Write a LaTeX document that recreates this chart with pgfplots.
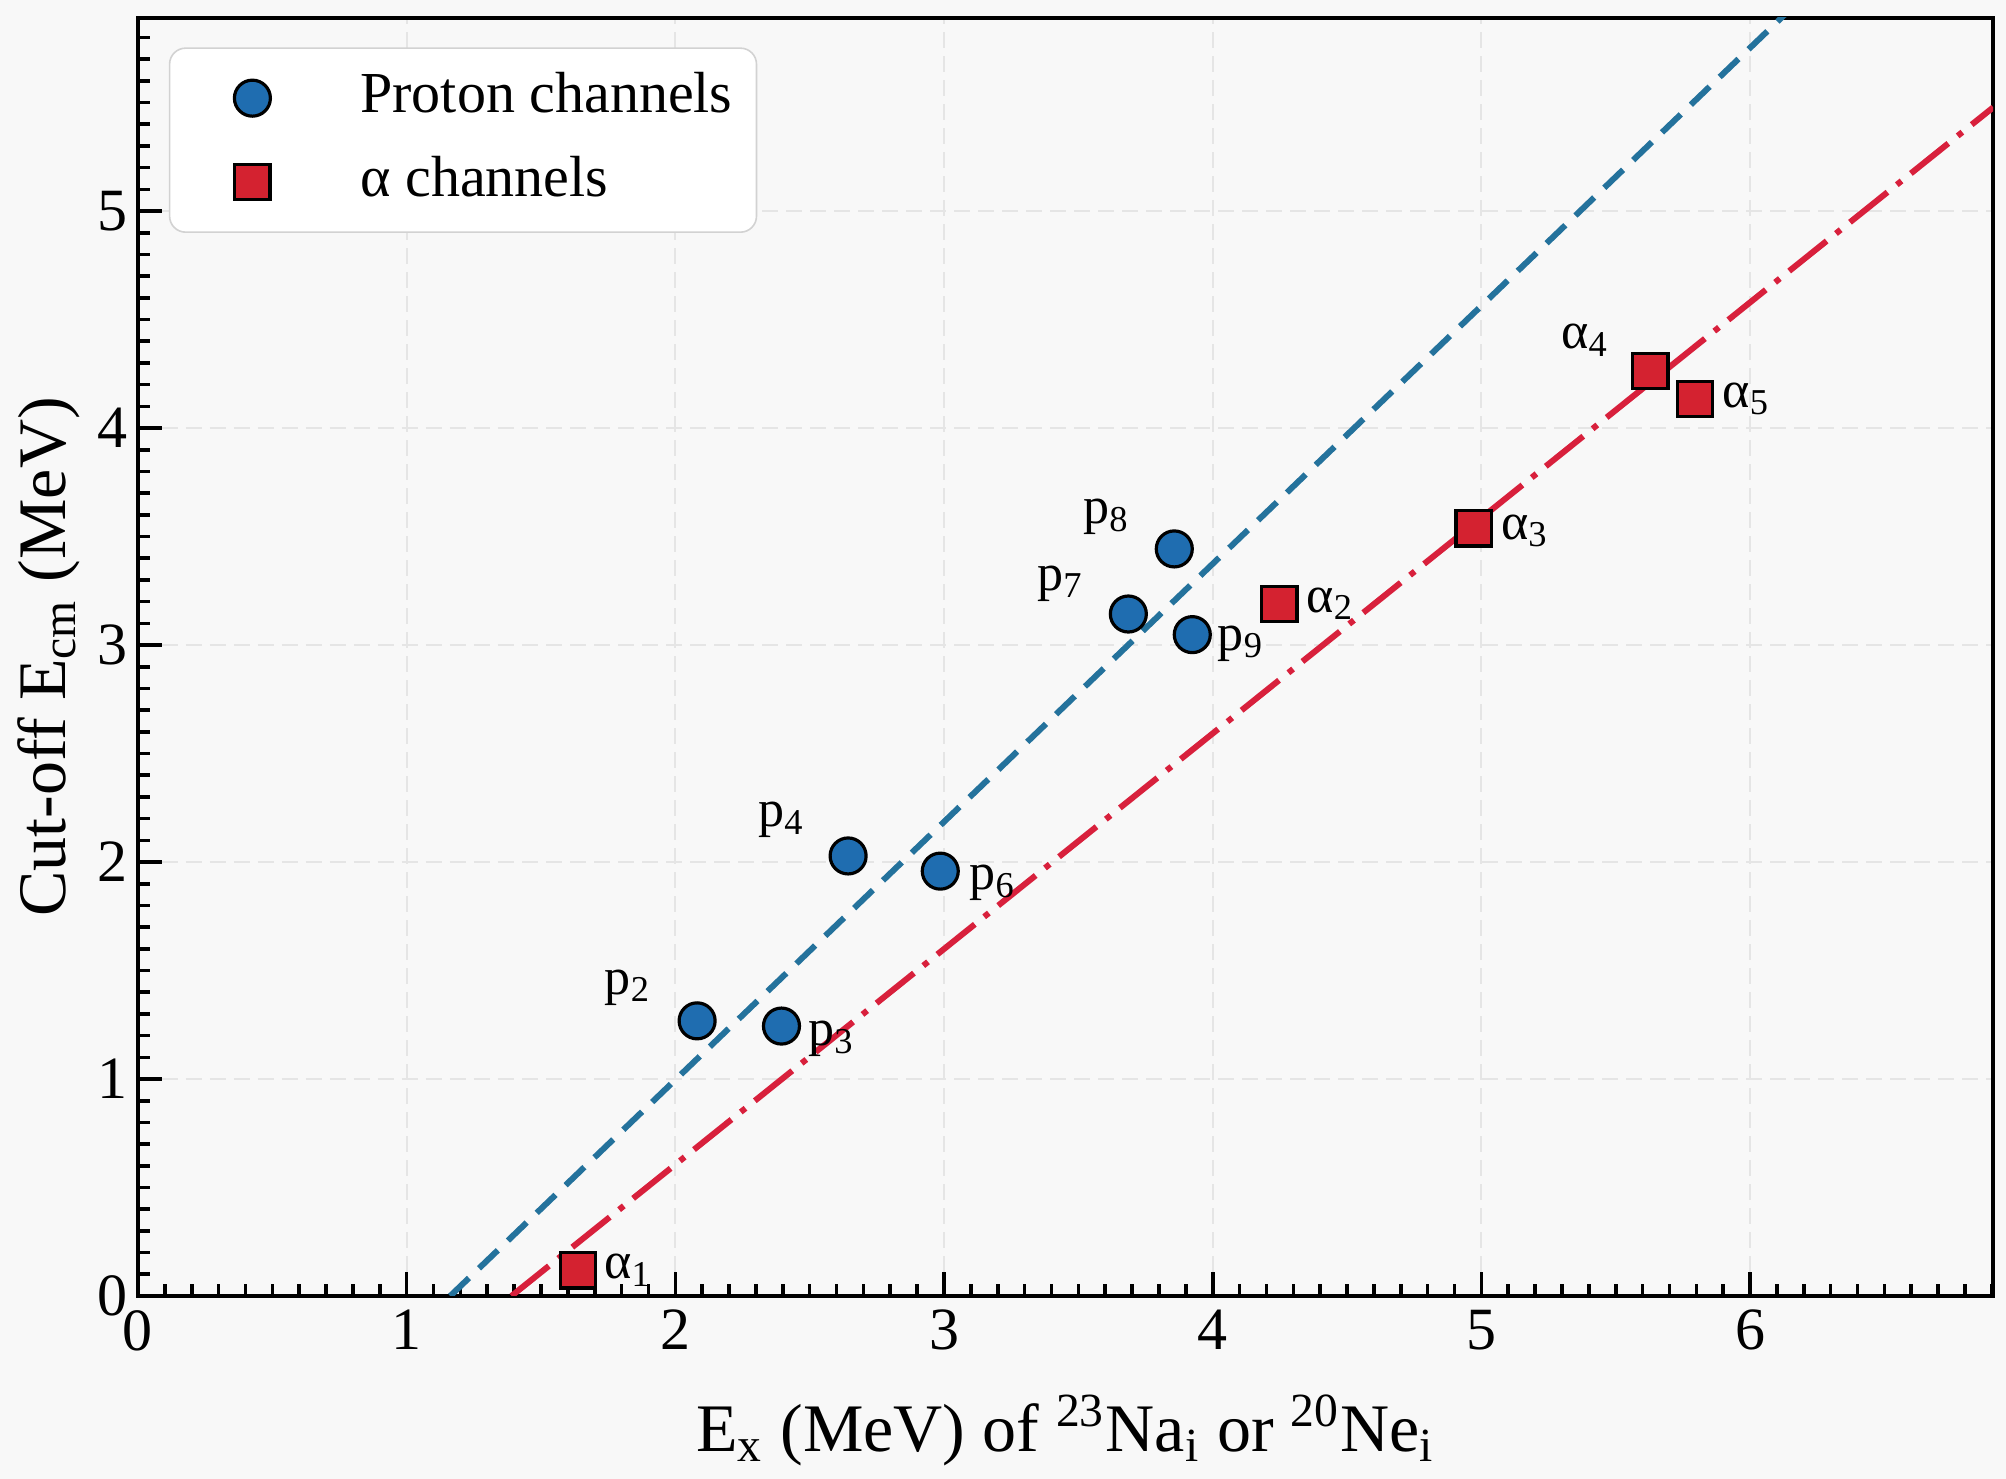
\documentclass[border=0pt]{standalone}
\usepackage{fontspec}
\setmainfont{Liberation Serif}
\usepackage{pgfplots}
\pgfplotsset{compat=1.18}
\definecolor{bg}{HTML}{F8F8F8}
\definecolor{pblue}{HTML}{1F6DB0}
\definecolor{ared}{HTML}{D42230}
\definecolor{pline}{HTML}{24729C}
\definecolor{aline}{HTML}{D8203C}
\begin{document}
\begin{tikzpicture}
\fill[bg] (-34.5pt,-45.75pt) rectangle (467pt,324pt);
\begin{axis}[
  scale only axis, width=463.8pt, height=319.5pt,
  xmin=0, xmax=6.905, ymin=0, ymax=5.89,
  xtick={0,1,2,3,4,5,6}, ytick={0,1,2,3,4,5},
  minor xtick={0,0.1,...,6.9}, minor ytick={0,0.1,...,5.85},
  xtick pos=bottom, ytick pos=left,
  tick align=inside, major tick length=6pt, minor tick length=3pt,
  every tick/.style={black, line width=0.9pt},
  axis line style={line width=1pt},
  grid=major, major grid style={gray!20, dash pattern=on 4pt off 2pt, line width=0.5pt},
  axis background/.style={fill=bg},
  /pgf/number format/assume math mode=true,
  tick label style={font=\fontsize{15}{17}\selectfont},
  yticklabel style={xshift=1pt},
  label style={font=\fontsize{17}{20}\selectfont},
  xlabel={E\textsubscript{x} (MeV) of \textsuperscript{23}Na\textsubscript{i} or \textsuperscript{20}Ne\textsubscript{i}},
  ylabel={Cut-off E\textsubscript{cm} (MeV)},
  xlabel style={at={(axis description cs:0.5,-0.1049)}, anchor=center},
  ylabel style={at={(axis description cs:-0.0483,0.5)}, anchor=center},
  legend style={at={(0.0166,0.977)}, anchor=north west, draw=gray!35, fill=white,
    rounded corners=4pt, font=\fontsize{14.5}{17}\selectfont,
    inner xsep=4pt, inner ysep=4pt, row sep=4pt,
    nodes={inner sep=2pt, text height=10pt, text depth=3pt},
    /tikz/every odd column/.append style={column sep=20.5pt}},
  legend cell align=left,
  legend image code/.code={\path (-16.5pt,0pt); \draw[#1] plot coordinates {(0cm,0cm)};},
]
\addplot[pline, line width=1.5pt, dash pattern=on 6.5pt off 3.5pt, forget plot] coordinates {(1.162,0) (6.3,6.109)};
\addplot[aline, line width=1.5pt, dash pattern=on 12pt off 3pt on 1.5pt off 3pt, forget plot] coordinates {(1.390,0) (6.905,5.478)};
\addplot[only marks, mark=*, mark size=4.5pt, mark options={fill=pblue, draw=black, line width=0.8pt}] coordinates {
(2.081,1.268) (2.395,1.244) (2.643,2.028) (2.986,1.958) (3.686,3.143) (3.857,3.443) (3.924,3.048)};
\addlegendentry{Proton channels}
\addplot[only marks, mark=square*, mark size=4.4pt, mark options={fill=ared, draw=black, line width=0.8pt}] coordinates {
(1.638,0.118) (4.248,3.19) (4.971,3.538) (5.629,4.263) (5.795,4.133)};
\addlegendentry{α channels}
\begin{scope}[every node/.style={font=\fontsize{13}{15}\selectfont}]
\node at (axis cs:1.824,1.421) {p\textsubscript{2}};
\node at (axis cs:2.581,1.185) {p\textsubscript{3}};
\node at (axis cs:2.395,2.193) {p\textsubscript{4}};
\node at (axis cs:3.181,1.904) {p\textsubscript{6}};
\node at (axis cs:3.433,3.284) {p\textsubscript{7}};
\node at (axis cs:3.605,3.591) {p\textsubscript{8}};
\node at (axis cs:4.105,3.007) {p\textsubscript{9}};
\node at (axis cs:1.824,0.118) {α\textsubscript{1}};
\node at (axis cs:4.438,3.19) {α\textsubscript{2}};
\node at (axis cs:5.162,3.526) {α\textsubscript{3}};
\node at (axis cs:5.386,4.405) {α\textsubscript{4}};
\node at (axis cs:5.986,4.133) {α\textsubscript{5}};
\end{scope}
\end{axis}
\end{tikzpicture}
\end{document}
